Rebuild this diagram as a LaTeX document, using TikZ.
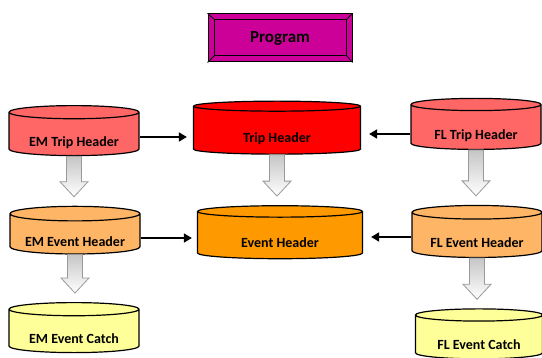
\documentclass[tikz,border=0pt]{standalone}
\usepackage{fontspec}
\setmainfont{Carlito}
\usetikzlibrary{calc, positioning}
\usetikzlibrary{arrows.meta}
\usetikzlibrary{shapes.geometric}

\definecolor{progmag}{HTML}{CC0099}
\definecolor{tripred}{HTML}{FF0000}
\definecolor{subred}{HTML}{FF6666}
\definecolor{evorange}{HTML}{FF9900}
\definecolor{suborange}{HTML}{FFB566}
\definecolor{catchyellow}{HTML}{FFFF99}

\tikzset{
  tank/.style={cylinder, shape border rotate=90, aspect=0.14, draw=black,
    line width=1.2pt, font=\fontsize{14}{16}\selectfont\bfseries,
    text height=23pt, text depth=0pt,
    minimum width=130pt, minimum height=50pt, inner sep=2pt},
  link/.style={line width=1.7pt, -{Triangle[length=8pt,width=9pt]}},
  hollow/.style={draw=gray!80, line width=0.8pt, top color=gray!45, bottom color=white}
}

% hollow block arrow from one tank down towards the next one
\newcommand{\flowdown}[2]{%
  \path[hollow] let \p1=(#1.south), \p2=(#2.north) in
    (\x1-7.5pt,\y1) -- (\x1+7.5pt,\y1) -- (\x1+7.5pt,\y2+24pt) -- (\x1+14pt,\y2+24pt)
    -- (\x1,\y2+9pt) -- (\x1-14pt,\y2+24pt) -- (\x1-7.5pt,\y2+24pt) -- cycle;
}

\begin{document}
\begin{tikzpicture}[x=1pt,y=-1pt]
\useasboundingbox (0,0) rectangle (542,358);
\clip (0,0) rectangle (542,358);

% Bevelled program box
\node[draw=black, fill=progmag, line width=1pt, minimum width=144pt, minimum height=48pt,
  font=\fontsize{17}{19}\selectfont\bfseries] (prog) at (280,38) {Program};
\coordinate (pi1) at ([shift={(7pt,-6pt)}]prog.north west);
\coordinate (pi2) at ([shift={(-6pt,7pt)}]prog.south east);
\draw[line width=0.8pt] (pi1) rectangle (pi2);
\draw[line width=0.8pt] (prog.north west) -- (pi1);
\draw[line width=0.8pt] (prog.south east) -- (pi2);
\draw[line width=0.8pt] (prog.north east) -- (pi1 -| pi2);
\draw[line width=0.8pt] (prog.south west) -- (pi1 |- pi2);

% Trip headers
\node[tank, fill=subred] (emtrip) at (74,135) {EM Trip Header};
\node[tank, fill=tripred, minimum width=167pt, minimum height=53pt] (trip) at (277,131) {Trip Header};
\node[tank, fill=subred, minimum height=51pt] (fltrip) at (476,128) {FL Trip Header};

% Event headers
\node[tank, fill=suborange, minimum height=47pt] (emevent) at (75,235) {EM Event Header};
\node[tank, fill=evorange, minimum width=165pt, minimum height=53pt] (event) at (280,236) {Event Header};
\node[tank, fill=suborange, minimum height=52pt] (flevent) at (477,236) {FL Event Header};

% Event catch
\node[tank, fill=catchyellow] (emcatch) at (74,332) {EM Event Catch};
\node[tank, fill=catchyellow, minimum width=127pt] (flcatch) at (479,338) {FL Event Catch};

% Side connectors
\draw[link, shorten >=6pt] ([yshift=-2pt]emtrip.east) -- ([yshift=-2pt]emtrip.east -| trip.west);
\draw[link, shorten >=8pt] ([yshift=-6pt]fltrip.west) -- ([yshift=-6pt]fltrip.west -| trip.east);
\draw[link, shorten >=5pt] ([yshift=-3pt]emevent.east) -- ([yshift=-3pt]emevent.east -| event.west);
\draw[link, shorten >=8pt] ([yshift=-1pt]flevent.west) -- ([yshift=-1pt]flevent.west -| event.east);

% Block arrows
\flowdown{emtrip}{emevent}
\flowdown{trip}{event}
\flowdown{fltrip}{flevent}
\flowdown{emevent}{emcatch}
\flowdown{flevent}{flcatch}
\end{tikzpicture}
\end{document}
